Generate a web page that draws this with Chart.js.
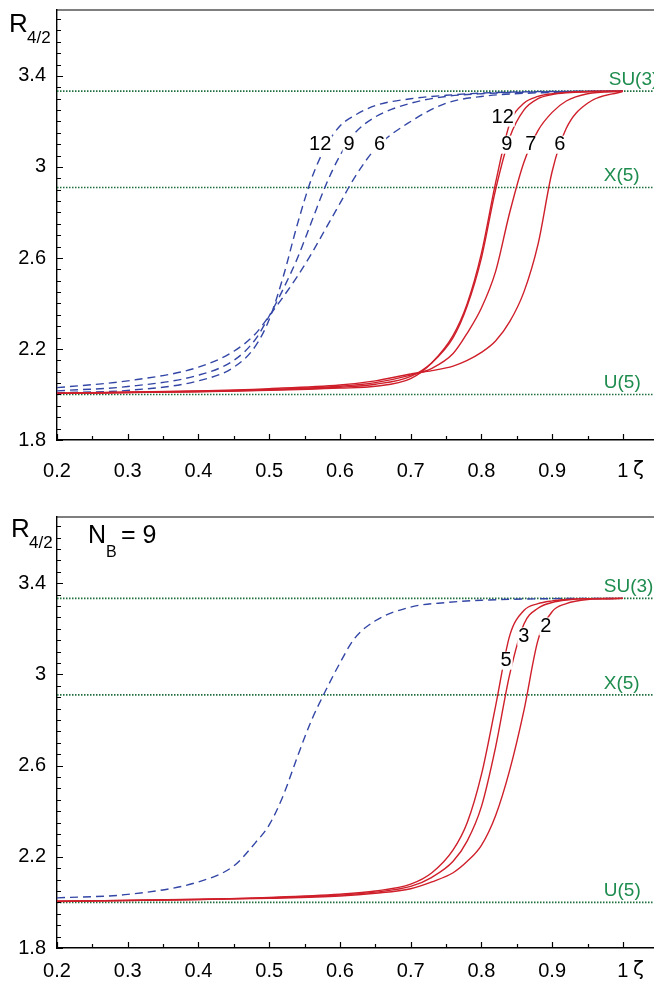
<!DOCTYPE html>
<html>
<head>
<meta charset="utf-8">
<script src="https://cdn.jsdelivr.net/npm/chart.js@4.4.1/dist/chart.umd.min.js"></script>
<style>
  html, body { margin: 0; padding: 0; background: #fff; }
  canvas { position: absolute; left: 0; }
  #topChart { top: 0; }
  #bottomChart { top: 490px; }
</style>
</head>
<body>
<canvas id="topChart" width="654" height="490"></canvas>
<canvas id="bottomChart" width="654" height="493"></canvas>
<script>
// axis ranges and labelled ticks
const xMin = 0.2, xMax = 1.044, yMin = 1.8, yMax = 3.69
const xTickLabels = [0.2, 0.3, 0.4, 0.5, 0.6, 0.7, 0.8, 0.9, 1]
const yTickLabels = [1.8, 2.2, 2.6, 3, 3.4]

// limits
const su3 = 10 / 3
const x5 = 2.91
const u5 = 2.0

// dashed (blue) curves
const blueZeta = [0.2, 0.3, 0.4, 0.45, 0.48, 0.5, 0.52, 0.54, 0.56, 0.58, 0.6, 0.62, 0.65, 0.7, 0.75, 0.8, 0.9, 1.0]
const blue12 = [2.008, 2.018, 2.06, 2.12, 2.21, 2.33, 2.52, 2.75, 2.95, 3.09, 3.18, 3.225, 3.27, 3.30, 3.315, 3.325, 3.332, 3.333]
const blue9 = [2.016, 2.035, 2.085, 2.15, 2.24, 2.345, 2.465, 2.60, 2.76, 2.92, 3.05, 3.145, 3.22, 3.28, 3.31, 3.322, 3.331, 3.333]
const blue6 = [2.03, 2.06, 2.12, 2.19, 2.265, 2.345, 2.43, 2.52, 2.62, 2.73, 2.84, 2.95, 3.08, 3.2, 3.28, 3.31, 3.328, 3.333]
const blueNB9 = [2.02, 2.035, 2.09, 2.16, 2.26, 2.34, 2.47, 2.64, 2.80, 2.93, 3.05, 3.155, 3.235, 3.295, 3.315, 3.325, 3.332, 3.333]

// solid (red) curves
const redZeta = [0.2, 0.4, 0.5, 0.6, 0.65, 0.7, 0.73, 0.76, 0.78, 0.8, 0.82, 0.84, 0.86, 0.88, 0.9, 0.92, 0.95, 1.0]
const red12 = [2.005, 2.012, 2.018, 2.028, 2.036, 2.07, 2.14, 2.26, 2.40, 2.62, 2.93, 3.19, 3.28, 3.31, 3.322, 3.328, 3.332, 3.333]
const red9 = [2.005, 2.013, 2.02, 2.032, 2.045, 2.08, 2.14, 2.25, 2.39, 2.60, 2.90, 3.13, 3.25, 3.30, 3.318, 3.326, 3.331, 3.333]
const red7 = [2.005, 2.014, 2.022, 2.036, 2.052, 2.085, 2.115, 2.18, 2.27, 2.38, 2.54, 2.80, 3.02, 3.16, 3.24, 3.29, 3.322, 3.333]
const red6 = [2.006, 2.016, 2.026, 2.042, 2.06, 2.09, 2.105, 2.125, 2.15, 2.185, 2.235, 2.32, 2.45, 2.66, 2.98, 3.17, 3.28, 3.333]
const red5 = [2.005, 2.014, 2.022, 2.036, 2.05, 2.08, 2.13, 2.23, 2.35, 2.56, 2.86, 3.17, 3.28, 3.31, 3.322, 3.328, 3.332, 3.333]
const red3 = [2.005, 2.013, 2.02, 2.032, 2.045, 2.07, 2.11, 2.18, 2.27, 2.42, 2.68, 3.0, 3.22, 3.29, 3.315, 3.326, 3.332, 3.333]
const red2 = [2.004, 2.012, 2.018, 2.028, 2.04, 2.06, 2.09, 2.13, 2.18, 2.25, 2.38, 2.58, 2.84, 3.15, 3.275, 3.31, 3.328, 3.333]

// curve numbers, anchored in data coords
const topNumbers = [
    ['12', 0.572, 3.098], ['9', 0.613, 3.098], ['6', 0.656, 3.098],
    ['12', 0.830, 3.217], ['9', 0.836, 3.098], ['7', 0.870, 3.098], ['6', 0.911, 3.098]
]
const bottomNumbers = [['5', 0.835, 3.06], ['3', 0.860, 3.166], ['2', 0.891, 3.21]]
const limitNames = [['SU(3)', su3], ['X(5)', x5], ['U(5)', u5]]

const BLUE = '#3346a6'
const RED = '#cf1f2a'
const GREEN = '#1d6e3c'
const GREEN_TEXT = '#1e8c4e'
const FONT = "'Liberation Sans', Arial, sans-serif"

function curve(zeta, vals, color, dashed) {
    return {
        data: zeta.map((z, i) => ({ x: z, y: vals[i] })),
        borderColor: color,
        borderWidth: 1.4,
        borderDash: dashed ? [8, 5] : [],
        pointRadius: 0,
        cubicInterpolationMode: 'monotone',
        fill: false
    }
}

function limitLine(v) {
    return {
        data: [{ x: xMin, y: v }, { x: xMax, y: v }],
        borderColor: GREEN,
        borderWidth: 1.6,
        borderDash: [1.5, 1.5],
        pointRadius: 0
    }
}

const isOn = (list, v) => list.some(t => Math.abs(t - v) < 1e-6)

// no extra room for half tick labels, the chart area is set by padding
function noPad(s) {
    s.paddingTop = 0
    s.paddingBottom = 0
    s.paddingLeft = 0
    s.paddingRight = 0
}

// frame, inward ticks and all the text in the plot
const framePlugin = {
    id: 'frame',
    afterDraw(chart, args, opts) {
        const ctx = chart.ctx
        const a = chart.chartArea
        const xs = chart.scales.x, ys = chart.scales.y
        ctx.save()
        ctx.strokeStyle = '#000'
        ctx.lineWidth = 1.2
        ctx.beginPath()
        ctx.moveTo(a.left, a.top)
        ctx.lineTo(a.right, a.top)
        for (let i = 0; i <= 16; i++) {
            const v = xMin + i * 0.05
            const px = Math.round(xs.getPixelForValue(v)) + 0.5
            ctx.moveTo(px, a.bottom)
            ctx.lineTo(px, a.bottom - (isOn(xTickLabels, v) ? 6 : 4))
        }
        for (let i = 0; i <= 37; i++) {
            const v = yMin + i * 0.05
            if (v > yMax) break
            const py = Math.round(ys.getPixelForValue(v)) + 0.5
            ctx.moveTo(a.left, py)
            ctx.lineTo(a.left + (isOn(yTickLabels, v) ? 6 : 4), py)
        }
        ctx.stroke()

        // limit names
        ctx.fillStyle = GREEN_TEXT
        ctx.font = '19px ' + FONT
        ctx.textAlign = 'left'
        ctx.textBaseline = 'alphabetic'
        limitNames.forEach(([t, v], i) => {
            const px = xs.getPixelForValue(i == 0 ? opts.suAt : 0.973)
            ctx.fillText(t, px, ys.getPixelForValue(v) - 6)
        })

        // curve numbers
        ctx.font = '20px ' + FONT
        ctx.textAlign = 'center'
        ctx.textBaseline = 'middle'
        opts.numbers.forEach(([t, x, y]) => {
            const px = xs.getPixelForValue(x), py = ys.getPixelForValue(y)
            const w = ctx.measureText(t).width
            ctx.fillStyle = '#fff'
            ctx.fillRect(px - w / 2 - 1, py - 9, w + 2, 18)
            ctx.fillStyle = '#000'
            ctx.fillText(t, px, py)
        })

        // R_4/2 and zeta
        ctx.fillStyle = '#000'
        ctx.textAlign = 'left'
        ctx.textBaseline = 'alphabetic'
        ctx.font = '26px ' + FONT
        ctx.fillText('R', opts.rx, opts.ry)
        ctx.font = '17px ' + FONT
        ctx.fillText('4/2', opts.rx + 18, opts.ry + 11)
        ctx.font = '20px DejaVu Sans, sans-serif'
        ctx.textBaseline = 'middle'
        ctx.fillText('ζ', 633, opts.zetaY)

        if (opts.nb) {
            ctx.textBaseline = 'alphabetic'
            ctx.font = '25px ' + FONT
            ctx.fillText('N', 88, a.top + 26)
            ctx.fillText('= 9', 121, a.top + 26)
            ctx.font = '16px ' + FONT
            ctx.fillText('B', 106, a.top + 40)
        }
        ctx.restore()
    }
}

function makeChart(id, curves, frameOpts, padTop, xHeight, xPad) {
    return new Chart(document.getElementById(id), {
        type: 'line',
        data: { datasets: curves.concat([limitLine(su3), limitLine(x5), limitLine(u5)]) },
        options: {
            responsive: false,
            animation: false,
            layout: { padding: { top: padTop, left: 0, right: 0, bottom: 0 } },
            plugins: {
                legend: { display: false },
                tooltip: { enabled: false },
                frame: frameOpts
            },
            scales: {
                x: {
                    type: 'linear',
                    min: xMin,
                    max: xMax,
                    grid: { display: false },
                    border: { display: true, color: '#000', width: 1.4 },
                    afterBuildTicks: s => { s.ticks = xTickLabels.map(v => ({ value: v })) },
                    afterFit: s => { s.height = xHeight; noPad(s) },
                    ticks: {
                        padding: xPad,
                        color: '#000',
                        maxRotation: 0,
                        font: { family: FONT, size: 20 },
                        callback: v => String(v)
                    }
                },
                y: {
                    type: 'linear',
                    min: yMin,
                    max: yMax,
                    grid: { display: false },
                    border: { display: true, color: '#000', width: 1.4 },
                    afterBuildTicks: s => { s.ticks = yTickLabels.map(v => ({ value: v })) },
                    afterFit: s => { s.width = 57; noPad(s) },
                    ticks: {
                        padding: 3,
                        color: '#000',
                        font: { family: FONT, size: 20 },
                        callback: v => String(v)
                    }
                }
            }
        },
        plugins: [framePlugin]
    })
}

makeChart('topChart', [
    curve(redZeta, red12, RED, false),
    curve(redZeta, red9, RED, false),
    curve(redZeta, red7, RED, false),
    curve(redZeta, red6, RED, false),
    curve(blueZeta, blue12, BLUE, true),
    curve(blueZeta, blue9, BLUE, true),
    curve(blueZeta, blue6, BLUE, true)
], { numbers: topNumbers, suAt: 0.98, rx: 9, ry: 32, zetaY: 470, nb: false }, 10, 50, 11)

makeChart('bottomChart', [
    curve(redZeta, red5, RED, false),
    curve(redZeta, red3, RED, false),
    curve(redZeta, red2, RED, false),
    curve(blueZeta, blueNB9, BLUE, true)
], { numbers: bottomNumbers, suAt: 0.973, rx: 11, ry: 47, zetaY: 480, nb: true }, 27, 35, 3)
</script>
</body>
</html>
